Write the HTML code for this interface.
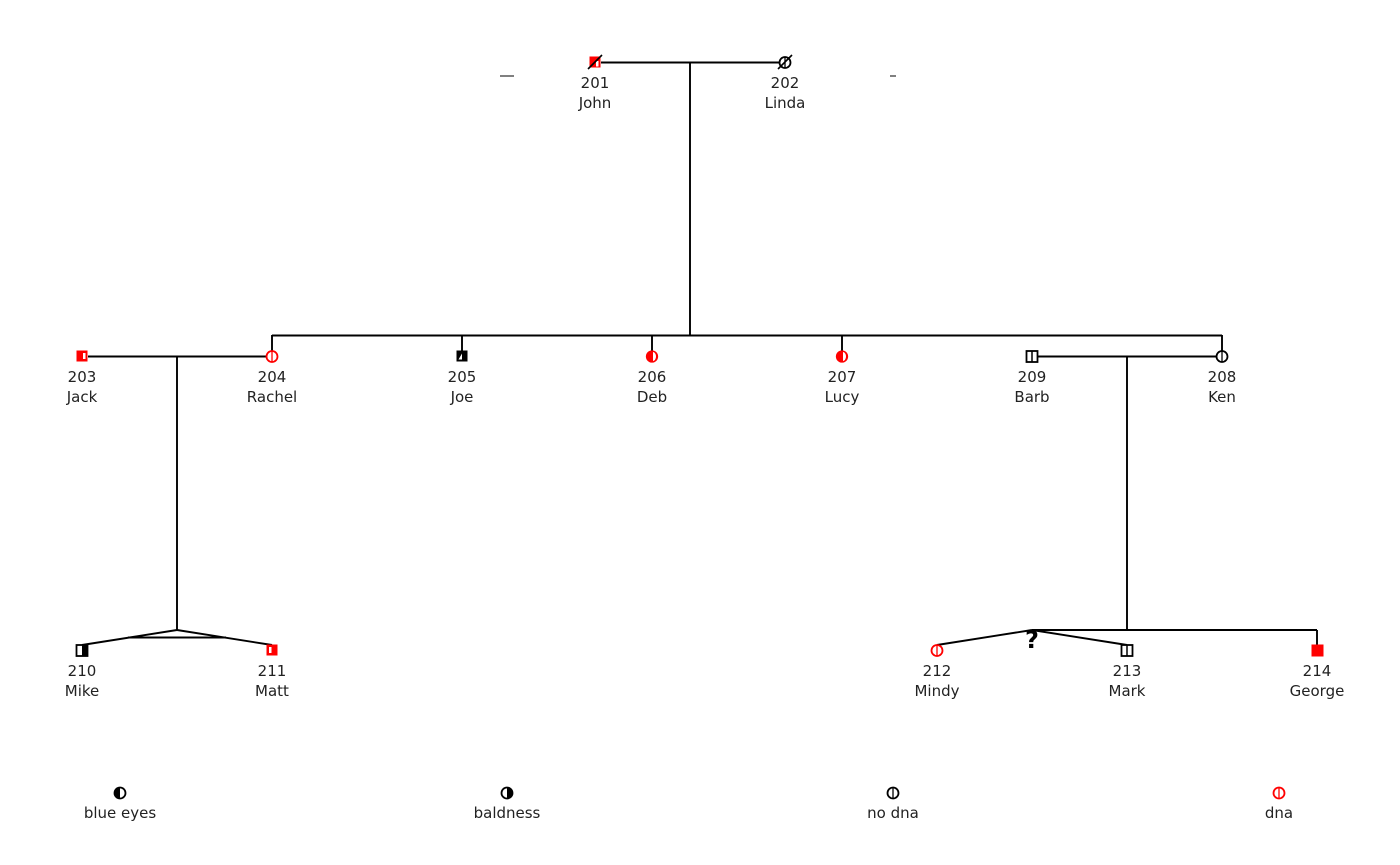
<!DOCTYPE html>
<html><head><meta charset="utf-8"><style>
html,body{margin:0;padding:0;background:#fff;}
svg{display:block;}
text{font-family:"DejaVu Sans","Liberation Sans",sans-serif;font-size:15px;fill:#222;text-anchor:middle;}
</style></head><body>
<svg width="1400" height="865" viewBox="0 0 1400 865" xmlns="http://www.w3.org/2000/svg">
<g stroke="#000" stroke-width="1.9" fill="none">
<line x1="601" y1="62.5" x2="780" y2="62.5"/>
<line x1="690" y1="62.5" x2="690" y2="335"/>
<line x1="272" y1="335.5" x2="1222" y2="335.5"/>
<line x1="272" y1="335" x2="272" y2="351"/>
<line x1="462" y1="335" x2="462" y2="351"/>
<line x1="652" y1="335" x2="652" y2="351"/>
<line x1="842" y1="335" x2="842" y2="351"/>
<line x1="1222" y1="335" x2="1222" y2="351"/>
<line x1="88" y1="356.5" x2="266" y2="356.5"/>
<line x1="177" y1="356" x2="177" y2="630"/>
<line x1="177" y1="630" x2="82" y2="645"/>
<line x1="177" y1="630" x2="272" y2="645"/>
<line x1="128" y1="637.5" x2="226" y2="637.5"/>
<line x1="1038" y1="356.5" x2="1216" y2="356.5"/>
<line x1="1127" y1="356" x2="1127" y2="630"/>
<line x1="1032" y1="630" x2="1317" y2="630"/>
<line x1="1317" y1="630" x2="1317" y2="645"/>
<line x1="1032" y1="630" x2="937" y2="645"/>
<line x1="1032" y1="630" x2="1127" y2="645"/>
<line x1="500" y1="76" x2="514" y2="76" stroke-width="1"/>
<line x1="890" y1="76" x2="896" y2="76" stroke-width="1"/>
</g>

<rect x="589.5" y="56.5" width="11" height="11" fill="#f00"/>
<rect x="596" y="61" width="2.5" height="5.5" fill="#fff"/>
<line x1="588" y1="69" x2="602" y2="55" stroke="#000" stroke-width="1.6"/>
<circle cx="785" cy="62.5" r="5.5" fill="none" stroke="#000" stroke-width="1.8"/>
<line x1="785" y1="57" x2="785" y2="68" stroke="#000" stroke-width="1.3"/>
<line x1="778" y1="69" x2="792" y2="55" stroke="#000" stroke-width="1.6"/>

<rect x="76.5" y="350.5" width="11" height="11" fill="#f00"/>
<rect x="83" y="353" width="2.5" height="6" fill="#fff"/>
<circle cx="272" cy="356.5" r="5.5" fill="#fff" stroke="#f00" stroke-width="1.8"/>
<line x1="272" y1="351" x2="272" y2="362" stroke="#f00" stroke-width="1.3"/>
<rect x="456.5" y="350.5" width="11" height="11" fill="#000"/>
<path d="M458.5 359.5 L462 353.5 L462 359.5 Z" fill="#fff"/>
<circle cx="652" cy="356.5" r="5.5" fill="#f00" stroke="#f00" stroke-width="1.3"/>
<path d="M653 352 A3 4.5 0 0 1 653 361 Z" fill="#fff"/>
<circle cx="842" cy="356.5" r="5.5" fill="#f00" stroke="#f00" stroke-width="1.3"/>
<path d="M843 352 A3 4.5 0 0 1 843 361 Z" fill="#fff"/>
<rect x="1026.5" y="351" width="11" height="11" fill="#fff" stroke="#000" stroke-width="1.8"/>
<line x1="1032" y1="351" x2="1032" y2="362" stroke="#000" stroke-width="1.5"/>
<circle cx="1222" cy="356.5" r="5.5" fill="#fff" stroke="#000" stroke-width="1.8"/>
<line x1="1222" y1="351" x2="1222" y2="362" stroke="#000" stroke-width="1.3"/>

<rect x="76.5" y="645" width="11" height="11" fill="#fff" stroke="#000" stroke-width="1.8"/>
<rect x="82" y="645" width="5.5" height="11" fill="#000"/>
<rect x="266.5" y="644.5" width="11" height="11" fill="#f00"/>
<rect x="269" y="647" width="2.5" height="6" fill="#fff"/>
<circle cx="937" cy="650.5" r="5.5" fill="#fff" stroke="#f00" stroke-width="1.8"/>
<line x1="937" y1="645" x2="937" y2="656" stroke="#f00" stroke-width="1.3"/>
<rect x="1121.5" y="645" width="11" height="11" fill="#fff" stroke="#000" stroke-width="1.8"/>
<line x1="1127" y1="645" x2="1127" y2="656" stroke="#000" stroke-width="1.5"/>
<rect x="1311.5" y="644.5" width="12" height="12" fill="#f00"/>
<text x="1032" y="648" style="font-size:24px;font-weight:bold;fill:#000">?</text>

<circle cx="120" cy="793" r="5.5" fill="#fff" stroke="#000" stroke-width="1.8"/>
<path d="M120 787.5 A5.5 5.5 0 0 0 120 798.5 Z" fill="#000"/>
<circle cx="507" cy="793" r="5.5" fill="#fff" stroke="#000" stroke-width="1.8"/>
<path d="M507 787.5 A5.5 5.5 0 0 1 507 798.5 Z" fill="#000"/>
<circle cx="893" cy="793" r="5.5" fill="#fff" stroke="#000" stroke-width="1.8"/>
<line x1="893" y1="788" x2="893" y2="798" stroke="#000" stroke-width="1.3"/>
<circle cx="1279" cy="793" r="5.5" fill="#fff" stroke="#f00" stroke-width="1.8"/>
<line x1="1279" y1="788" x2="1279" y2="798" stroke="#f00" stroke-width="1.3"/>

<text x="595" y="88">201</text><text x="595" y="108">John</text>
<text x="785" y="88">202</text><text x="785" y="108">Linda</text>
<text x="82" y="382">203</text><text x="82" y="402">Jack</text>
<text x="272" y="382">204</text><text x="272" y="402">Rachel</text>
<text x="462" y="382">205</text><text x="462" y="402">Joe</text>
<text x="652" y="382">206</text><text x="652" y="402">Deb</text>
<text x="842" y="382">207</text><text x="842" y="402">Lucy</text>
<text x="1032" y="382">209</text><text x="1032" y="402">Barb</text>
<text x="1222" y="382">208</text><text x="1222" y="402">Ken</text>
<text x="82" y="676">210</text><text x="82" y="696">Mike</text>
<text x="272" y="676">211</text><text x="272" y="696">Matt</text>
<text x="937" y="676">212</text><text x="937" y="696">Mindy</text>
<text x="1127" y="676">213</text><text x="1127" y="696">Mark</text>
<text x="1317" y="676">214</text><text x="1317" y="696">George</text>
<text x="120" y="818">blue eyes</text>
<text x="507" y="818">baldness</text>
<text x="893" y="818">no dna</text>
<text x="1279" y="818">dna</text>
</svg>
</body></html>
